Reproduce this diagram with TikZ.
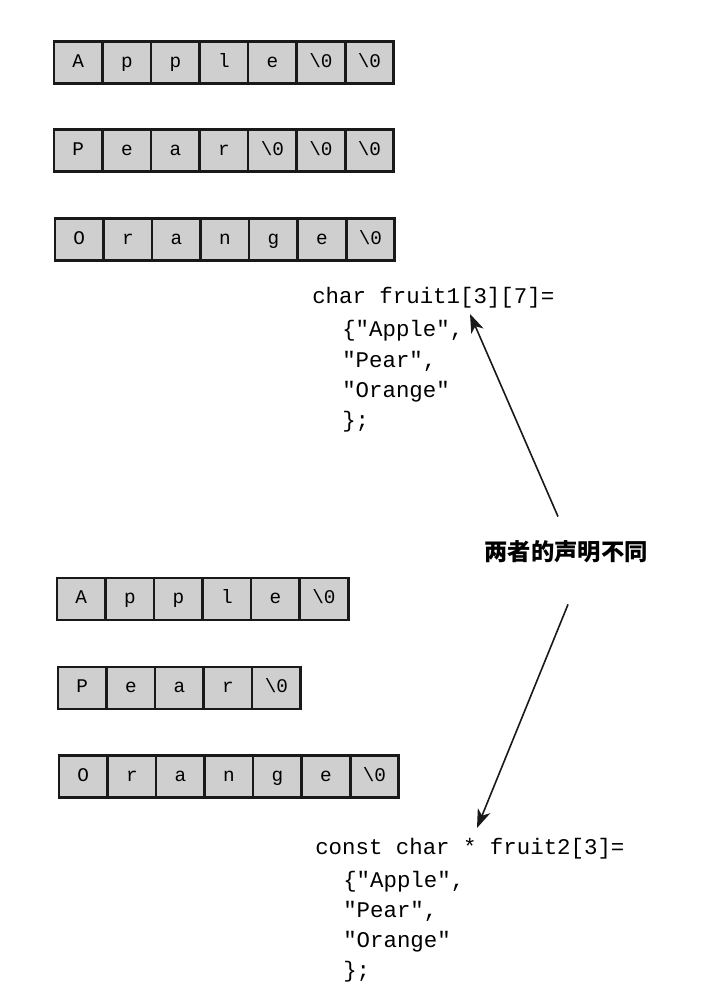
\documentclass[tikz,border=0pt]{standalone}
\usepackage{fontspec}
\setmonofont{Liberation Mono}
\newfontfamily\cjk{Noto Sans CJK SC}
\usetikzlibrary{positioning}
\usetikzlibrary{arrows.meta}
\tikzstyle{cell}=[draw=black!90,fill=black!19,line width=2pt,minimum width=36.4pt,minimum height=31.5pt,inner sep=0pt,outer sep=0pt,text height=8pt,text depth=1pt,font=\ttfamily\fontsize{14.5}{14.5}\selectfont]
\tikzstyle{code}=[anchor=base west,inner sep=0pt,font=\ttfamily\fontsize{16.8}{20}\selectfont]
% one row of char cells: name, x, y, letters
\newcommand{\strrow}[4]{%
  \foreach \ch [count=\i] in {#4} {
    \pgfmathtruncatemacro\j{\i-1}
    \ifnum\i=1
      \node[cell,anchor=west] (#1-1) at (#2,#3) {\ch};
    \else
      \node[cell,right=0pt of #1-\j] (#1-\i) {\ch};
    \fi
  }}

\begin{document}
\begin{tikzpicture}[x=0.75pt,y=-0.75pt,
  pointer/.style={-{Stealth[length=14pt,width=10pt,inset=4pt]},line width=1.2pt,black!90},
  note/.style={font=\cjk\bfseries\fontsize{17.5}{17.5}\selectfont,inner sep=0pt}]
\useasboundingbox (0,0) rectangle (713,994);
% fixed rows
\strrow{fa}{54}{62.5}{A,p,p,l,e,\textbackslash0,\textbackslash0}
\strrow{fp}{54}{150.5}{P,e,a,r,\textbackslash0,\textbackslash0,\textbackslash0}
\strrow{fo}{55}{239.5}{O,r,a,n,g,e,\textbackslash0}
% pointer rows
\strrow{pa}{57}{599}{A,p,p,l,e,\textbackslash0}
\strrow{pp}{58}{688}{P,e,a,r,\textbackslash0}
\strrow{po}{59}{776.5}{O,r,a,n,g,e,\textbackslash0}

\node[code] (decl1) at (312,304) {char fruit1[3][7]=};
\node[code] (decl1b) at (342,337) {\{"Apple",};
\node[code] (decl1c) at (342,367) {"Pear",};
\node[code] (decl1d) at (342,397) {"Orange"};
\node[code] (decl1e) at (342,427) {\};};

\node[code] (decl2) at (315,854) {const char * fruit2[3]=};
\node[code] (decl2b) at (343,887) {\{"Apple",};
\node[code] (decl2c) at (343,917) {"Pear",};
\node[code] (decl2d) at (343,947) {"Orange"};
\node[code] (decl2e) at (343,977) {\};};

\node[note] (diff) at (566,552) {两者的声明不同};

\coordinate (tip1) at (470,314);
\coordinate (tip2) at (477,828);
\draw[pointer] ([shift={(-8,-24)}]diff.north) -- (tip1);
\draw[pointer] ([shift={(2,41)}]diff.south) -- (tip2);
\end{tikzpicture}
\end{document}
